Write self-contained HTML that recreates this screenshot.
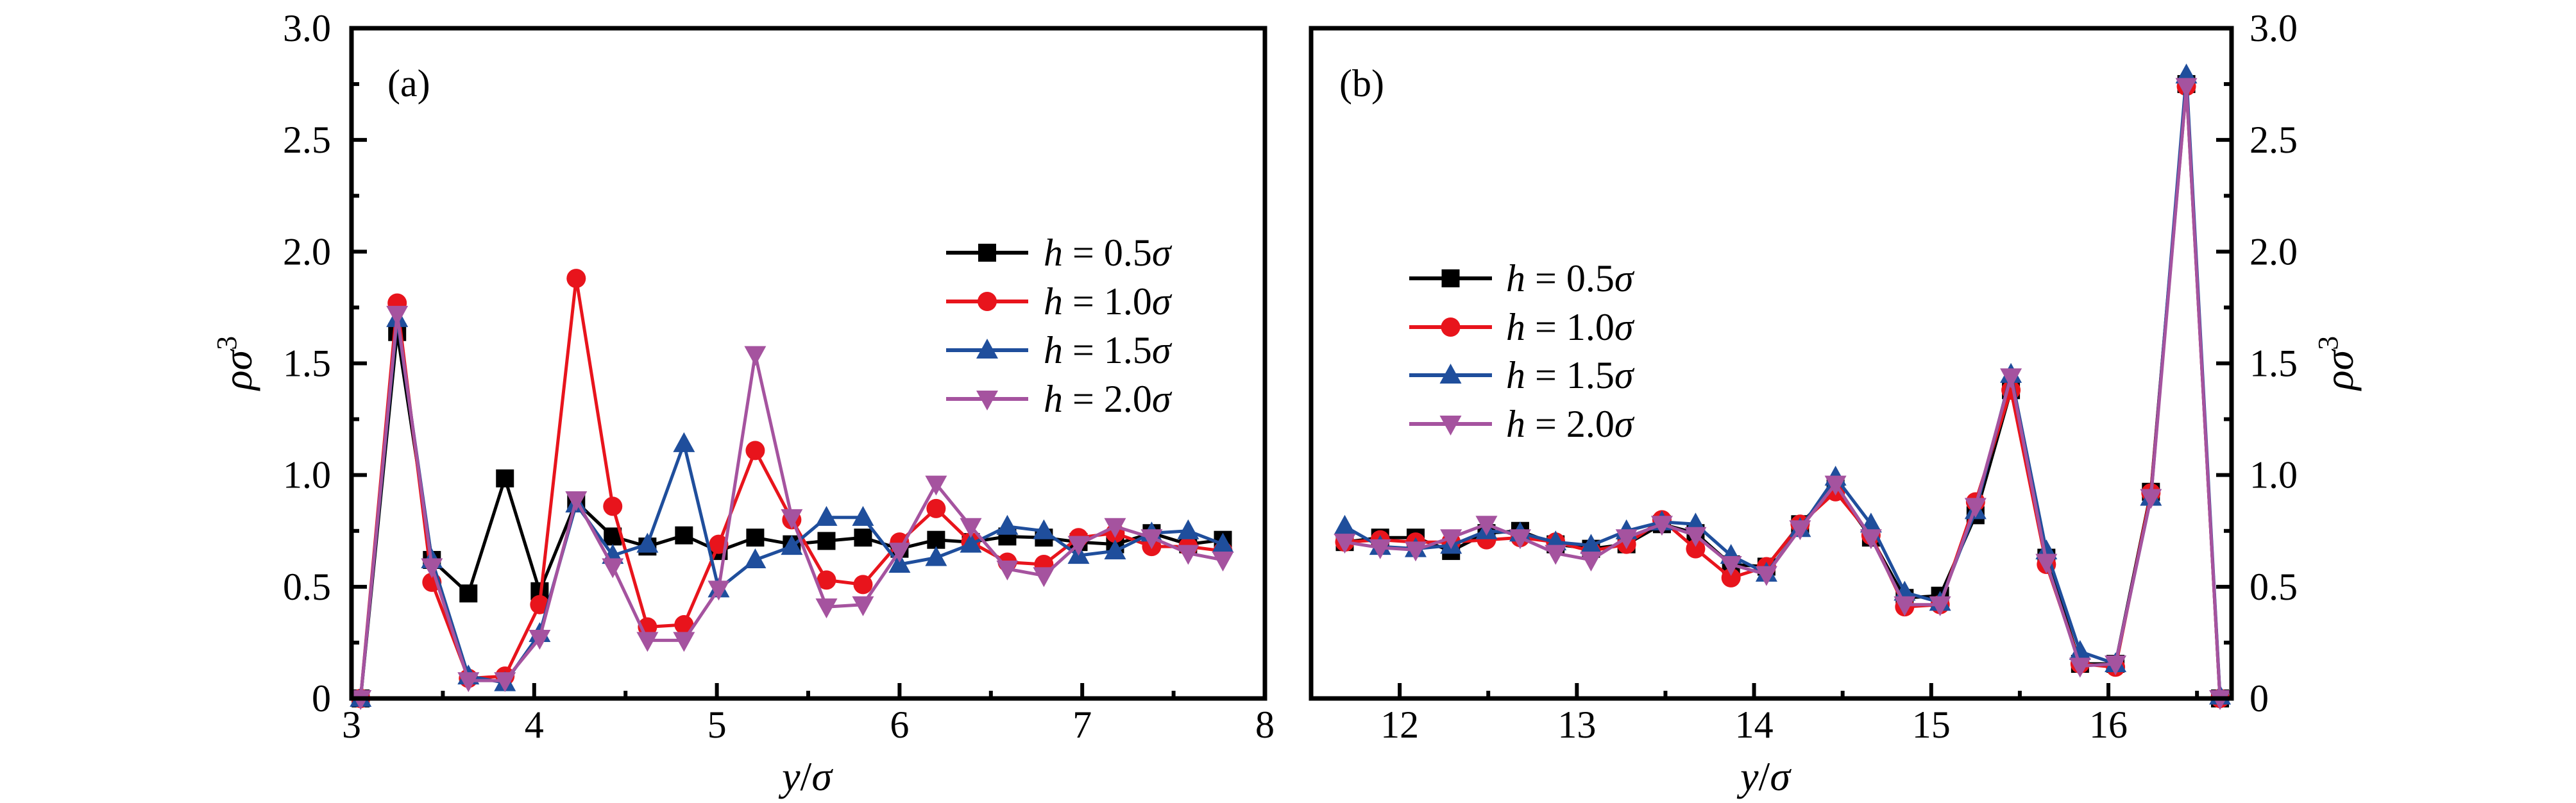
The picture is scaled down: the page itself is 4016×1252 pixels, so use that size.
<!DOCTYPE html>
<html><head><meta charset="utf-8"><style>
html,body{margin:0;padding:0;background:#fff;}
svg{display:block;}
svg text, svg tspan{font-family:"Liberation Serif","DejaVu Serif",serif !important;fill:#000;}
</style></head><body>
<svg id="chart" width="4016" height="1252" viewBox="0 0 4016 1252" xmlns="http://www.w3.org/2000/svg" font-family="Liberation Serif, serif"></svg>
<script>
// ---- data: panel (a)
const xA = [3.05,3.25,3.44,3.64,3.84,4.03,4.23,4.43,4.62,4.82,5.01,5.21,5.41,5.60,5.80,6.00,6.20,6.39,6.59,6.79,6.98,7.18,7.38,7.58,7.77];
const aH05 = [0.0,1.64,0.62,0.47,0.985,0.48,0.88,0.725,0.68,0.73,0.66,0.72,0.69,0.705,0.72,0.67,0.71,0.70,0.725,0.72,0.70,0.69,0.74,0.69,0.71];
const aH10 = [0.0,1.77,0.52,0.09,0.10,0.42,1.88,0.86,0.32,0.33,0.69,1.11,0.80,0.53,0.51,0.70,0.85,0.70,0.61,0.60,0.72,0.74,0.68,0.68,0.66];
const aH15 = [0.0,1.70,0.62,0.10,0.07,0.29,0.87,0.64,0.69,1.14,0.49,0.62,0.68,0.81,0.81,0.60,0.63,0.69,0.77,0.75,0.64,0.66,0.74,0.75,0.69];
const aH20 = [0.0,1.72,0.59,0.08,0.08,0.27,0.89,0.59,0.26,0.26,0.49,1.54,0.81,0.41,0.42,0.66,0.96,0.77,0.58,0.55,0.69,0.77,0.72,0.65,0.62];
// ---- data: panel (b)
const xB = [11.69,11.89,12.09,12.29,12.49,12.68,12.88,13.08,13.28,13.48,13.67,13.87,14.07,14.26,14.46,14.66,14.85,15.05,15.25,15.45,15.65,15.84,16.04,16.24,16.44,16.63];
const bH05 = [0.70,0.72,0.72,0.66,0.74,0.75,0.69,0.67,0.69,0.78,0.74,0.60,0.59,0.78,0.94,0.72,0.45,0.46,0.82,1.38,0.63,0.155,0.155,0.925,2.75,0.0];
const bH10 = [0.70,0.71,0.70,0.70,0.71,0.72,0.70,0.66,0.69,0.80,0.67,0.54,0.59,0.78,0.925,0.73,0.41,0.42,0.88,1.38,0.60,0.155,0.14,0.92,2.74,0.0];
const bH15 = [0.77,0.68,0.67,0.685,0.75,0.74,0.70,0.685,0.75,0.79,0.78,0.64,0.56,0.76,0.99,0.78,0.475,0.43,0.84,1.45,0.66,0.21,0.155,0.90,2.79,0.01];
const bH20 = [0.70,0.675,0.665,0.72,0.78,0.72,0.65,0.62,0.72,0.78,0.73,0.60,0.555,0.76,0.96,0.72,0.42,0.42,0.86,1.44,0.61,0.145,0.155,0.90,2.74,0.0];
const seriesLabels = ["0.5","1.0","1.5","2.0"];
const yTicks = [0,0.5,1.0,1.5,2.0,2.5,3.0];
const yTickLabels = ["0","0.5","1.0","1.5","2.0","2.5","3.0"];
const xTicksA = [3,4,5,6,7,8];
const xTicksB = [12,13,14,15,16];

const colors = ["#000000","#e8141c","#1f4e9c","#a5539f"];
const markers = ["square","circle","up","down"];
const NS = "http://www.w3.org/2000/svg";
const FONT = "Liberation Serif, DejaVu Serif, serif";
const svg = document.getElementById("chart");
function el(tag, attrs, parent){
  const e = document.createElementNS(NS, tag);
  for (const k in attrs) e.setAttribute(k, attrs[k]);
  if (tag === "text") e.setAttribute("font-family", FONT);
  (parent||svg).appendChild(e);
  return e;
}
const TOP = 44, BOT = 1089;
function yScale(v){ return BOT - v*(BOT-TOP)/3; }
function makeX(x0,x1,p0,p1){ return v => p0 + (v-x0)*(p1-p0)/(x1-x0); }
const xAs = makeX(3,8,548,1972);
const xBs = makeX(11.5,16.695,2044,3479);

function marker(type, cx, cy, color, g){
  let m;
  const s = 15;
  if (type==="square") m = el("rect",{x:cx-s+1,y:cy-s+1,width:2*s-2,height:2*s-2,fill:color},g);
  else if (type==="circle") m = el("circle",{cx:cx,cy:cy,r:s,fill:color},g);
  else if (type==="up") m = el("polygon",{points:`${cx},${cy-s-3} ${cx+s+2},${cy+s-2} ${cx-s-2},${cy+s-2}`,fill:color},g);
  else m = el("polygon",{points:`${cx},${cy+s+3} ${cx+s+2},${cy-s+2} ${cx-s-2},${cy-s+2}`,fill:color},g);
  
  
  return m;
}

function drawPanel(id, xs, xv, series, xTicks, minorStep, xmin, xmax, x0px, x1px, rightAxis){
  const g = el("g",{});
  
  
  series.forEach((vals,si)=>{
    const sg = el("g",{},g);
    
    
    const pts = xv.map((x,i)=>xs(x).toFixed(1)+","+yScale(vals[i]).toFixed(1)).join(" ");
    const ln = el("polyline",{points:pts,fill:"none",stroke:colors[si],"stroke-width":5,"stroke-linejoin":"round"},sg);
    
    
    xv.forEach((x,i)=>marker(markers[si], xs(x), yScale(vals[i]), colors[si], sg));
  });
  const fr = el("rect",{x:x0px,y:TOP,width:x1px-x0px,height:BOT-TOP,fill:"none",stroke:"#000","stroke-width":7},g);
  
  
  for (let v=Math.ceil(xmin/minorStep)*minorStep; v<=xmax+1e-9; v+=minorStep){
    const major = Math.abs(v-Math.round(v))<1e-6;
    const px = xs(v);
    const t = el("line",{x1:px,x2:px,y1:BOT,y2:BOT-(major?24:12),stroke:"#000","stroke-width":6},g);
    
    
  }
  xTicks.forEach(v=>{
    const t = el("text",{x:xs(v),y:1150,"font-size":60,"text-anchor":"middle"},g);
    t.textContent = String(v);
    
    
  });
  const ax = rightAxis ? x1px : x0px;
  const dir = rightAxis ? -1 : 1;
  for (let v=0; v<=3.001; v+=0.25){
    const major = Math.abs(v*2-Math.round(v*2))<1e-6;
    const t = el("line",{x1:ax,x2:ax+dir*(major?24:12),y1:yScale(v),y2:yScale(v),stroke:"#000","stroke-width":6},g);
    
    
  }
  yTicks.forEach((v,i)=>{
    const t = el("text",{x: rightAxis ? x1px+28 : x0px-32, y:yScale(v)+20,"font-size":60,"text-anchor": rightAxis?"start":"end"},g);
    t.textContent = yTickLabels[i];
    
    
  });
  return g;
}

drawPanel("a", xAs, xA, [aH05,aH10,aH15,aH20], xTicksA, 0.5, 3, 8, 548, 1972, false);
drawPanel("b", xBs, xB, [bH05,bH10,bH15,bH20], xTicksB, 0.5, 11.5, 16.695, 2044, 3479, true);

const la = el("text",{x:604,y:150,"font-size":60}); la.textContent="(a)";


const lb = el("text",{x:2088,y:150,"font-size":60}); lb.textContent="(b)";



function xTitle(cx){
  const t = el("text",{x:cx,y:1232,"font-size":64,"text-anchor":"middle","font-style":"italic"});
  t.innerHTML = 'y<tspan font-style="normal">/</tspan>σ';
  
  
}
xTitle(1258); xTitle(2752);
function yTitle(cx){
  const t = el("text",{x:0,y:0,"font-size":64,"text-anchor":"middle","font-style":"italic",transform:`translate(${cx},566) rotate(-90)`});
  t.innerHTML = 'ρσ<tspan dy="-24" font-size="44" font-style="normal">3</tspan>';
  
  
}
yTitle(392); yTitle(3668);

function legend(id, lx0, lx1, tx, ys){
  const g = el("g",{});
  
  
  ys.forEach((y,i)=>{
    const eg = el("g",{},g);
    
    
    el("line",{x1:lx0,x2:lx1,y1:y,y2:y,stroke:colors[i],"stroke-width":6},eg);
    marker(markers[i], (lx0+lx1)/2, y, colors[i], eg);
    const t = el("text",{x:tx,y:y+20,"font-size":60},eg);
    t.innerHTML = '<tspan font-style="italic">h</tspan> = '+seriesLabels[i]+'<tspan font-style="italic">σ</tspan>';
  });
}
legend("a", 1475, 1603, 1627, [394,470,546,622]);
legend("b", 2197, 2326, 2348, [434,510,585,661]);
</script>
</body></html>
